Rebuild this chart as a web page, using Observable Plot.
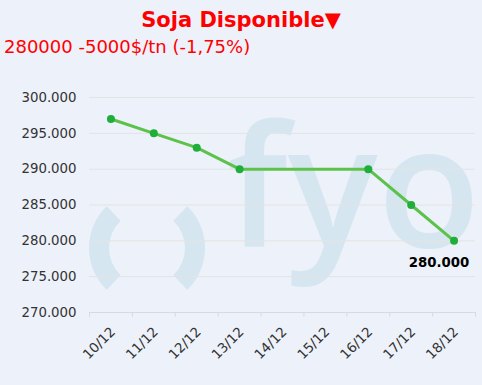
<!DOCTYPE html>
<html>
<head>
<meta charset="utf-8">
<script src="https://cdn.jsdelivr.net/npm/d3@7"></script>
<script src="https://cdn.jsdelivr.net/npm/@observablehq/plot@0.6"></script>
<style>
  body { margin: 0; }
  #wrap { position: relative; width: 482px; height: 385px; background: #edf1f9; overflow: hidden; font-family: "DejaVu Sans", Verdana, sans-serif; }
  #wm { position: absolute; left: 0; top: 0; }
  #title { position: absolute; left: 0; width: 482px; top: 7px; text-align: center; color: #ff0000; font-weight: bold; font-size: 21px; line-height: 26px; }
  #subtitle { position: absolute; left: 4px; top: 36px; color: #ff0000; font-size: 18px; line-height: 22px; }
  #chart { position: absolute; left: 0; top: 60px; }
  #chart svg { background: transparent; }
</style>
</head>
<body>
<div id="wrap">
  <svg id="wm" width="482" height="385"></svg>
  <div id="title">Soja Disponible▼</div>
  <div id="subtitle">280000 -5000$/tn (-1,75%)</div>
  <div id="chart"></div>
</div>
<script>
const dates = ["10/12", "11/12", "12/12", "13/12", "14/12", "15/12", "16/12", "17/12", "18/12"];
const values = [297000, 295000, 293000, 290000, null, null, 290000, 285000, 280000];
const yTicks = [270000, 275000, 280000, 285000, 290000, 295000, 300000];

const data = dates.map((d, i) => ({date: d, value: values[i]})).filter(d => d.value != null);
const last = data[data.length - 1];
const fmt = v => d3.format(",.0f")(v).replace(/,/g, ".");

// watermark
(function () {
  const svg = d3.select("#wm");
  const col = "#d5e6f0";
  const cx = 147, cy = 248, R = 58, r = 38, span = 46 * Math.PI / 180;
  function arc(mid) {
    const a0 = mid - span, a1 = mid + span;
    const p = (rad, a) => [cx + rad * Math.cos(a), cy - rad * Math.sin(a)];
    const [x0, y0] = p(R, a0), [x1, y1] = p(R, a1), [x2, y2] = p(r, a1), [x3, y3] = p(r, a0);
    return `M${x0},${y0} A${R},${R} 0 0 0 ${x1},${y1} L${x2},${y2} A${r},${r} 0 0 1 ${x3},${y3} Z`;
  }
  svg.append("path").attr("d", arc(Math.PI)).attr("fill", col);
  svg.append("path").attr("d", arc(0)).attr("fill", col);
  svg.append("text").attr("x", 227).attr("y", 247).attr("font-family", "Open Sans")
    .attr("font-weight", 600).attr("font-size", 168).attr("fill", col).text("fyo");
})();

const W = 482, H = 325, ML = 89, MR = 7, MT = 37, MB = 73;
const step = (W - ML - MR) / dates.length;
const axisCol = "#d6dbe3";

const chart = Plot.plot({
  width: W, height: H,
  marginLeft: ML, marginRight: MR, marginTop: MT, marginBottom: MB,
  style: {background: "transparent", fontFamily: "DejaVu Sans, Verdana, sans-serif", color: "#333"},
  x: {type: "point", domain: dates, padding: 0.5, round: false, label: null},
  y: {domain: [270000, 300000], label: null},
  marks: [
    Plot.gridY(yTicks, {stroke: "#e3e3e3", strokeOpacity: 1}),
    Plot.ruleY([270000], {stroke: axisCol}),
    Plot.ruleX(dates, {x: d => d, y1: 270000, y2: 269350, dx: -step / 2, stroke: axisCol}),
    Plot.ruleX([dates[dates.length - 1]], {x: d => d, y1: 270000, y2: 269350, dx: step / 2, stroke: axisCol}),
    Plot.axisY({ticks: yTicks, tickFormat: fmt, tickSize: 0, tickPadding: 13, fontSize: 13.3, fill: "#333", label: null}),
    Plot.axisX({tickRotate: -45, tickSize: 0, tickPadding: 17, dx: 2, fontSize: 13.5, fill: "#333", label: null}),
    Plot.line(data, {x: "date", y: "value", stroke: "#5cc24a", strokeWidth: 3}),
    Plot.dot(data, {x: "date", y: "value", r: 4, fill: "#1fae3a", stroke: "none"}),
    Plot.text([last], {x: "date", y: "value", text: d => fmt(d.value), dy: 22, dx: -15, fontWeight: "bold", fontSize: 13.3, fill: "#000"})
  ]
});
document.getElementById("chart").appendChild(chart);
</script>
</body>
</html>
